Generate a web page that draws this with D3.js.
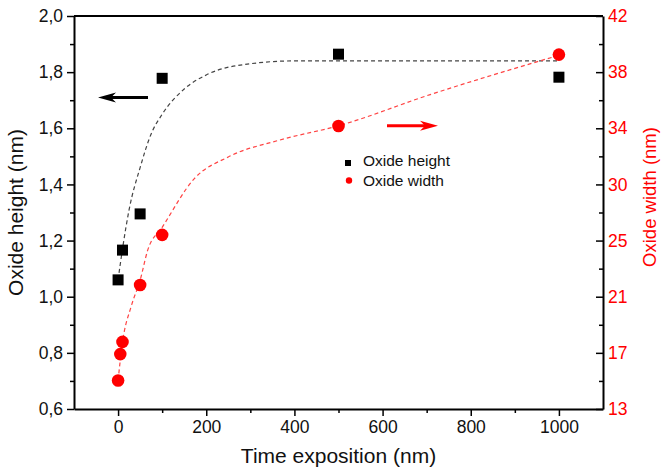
<!DOCTYPE html>
<html>
<head>
<meta charset="utf-8">
<script src="https://cdn.jsdelivr.net/npm/d3@7"></script>
<style>
  body { margin: 0; background: #fff; }
  text { font-family: "Liberation Sans", Arial, sans-serif; }
</style>
</head>
<body>
<svg width="662" height="471"></svg>
<script>
// measured points
var timeHeight = [0, 10, 50, 100, 500, 1000];
var heightVals = [1.06, 1.166, 1.295, 1.778, 1.864, 1.782];
var timeWidth = [0, 5, 10, 50, 100, 500, 1000];
var widthVals = [15.1, 17.05, 17.95, 22.15, 25.85, 33.88, 39.15];

// dashed fit curves
var heightFitT = [0, 10, 25, 50, 75, 100, 150, 200, 300, 400, 600, 1000];
var heightFitV = [1.06, 1.17, 1.31, 1.46, 1.58, 1.65, 1.74, 1.79, 1.83, 1.84, 1.84, 1.84];
var widthFitT = [0, 5, 10, 30, 50, 67, 100, 173, 250, 367, 500, 708, 1000];
var widthFitV = [15.1, 16.6, 17.9, 20.6, 22.5, 24.7, 26.4, 30.0, 31.6, 32.85, 33.9, 36.2, 39.1];

var xTicks = [0, 200, 400, 600, 800, 1000];
var leftTicks = [0.6, 0.8, 1.0, 1.2, 1.4, 1.6, 1.8, 2.0];
var rightLabels = ["13", "17", "21", "25", "30", "34", "38", "42"];

var svg = d3.select("svg"),
    margin = {top: 16, right: 59, bottom: 62, left: 74},
    width = 662 - margin.left - margin.right,
    height = 471 - margin.top - margin.bottom,
    g = svg.append("g").attr("transform", "translate(" + margin.left + "," + margin.top + ")");

var x = d3.scaleLinear().domain([-100, 1100]).range([0, width]);
var y = d3.scaleLinear().domain([0.6, 2.0]).range([height, 0]);
var y2 = d3.scaleLinear().domain([13, 42]).range([height, 0]);

var rightTicks = rightLabels.map(function(d, i) { return 13 + i * 29 / 7; });

// minor ticks first
g.append("g")
    .attr("transform", "translate(0," + height + ")")
    .call(d3.axisBottom(x).tickValues([100, 300, 500, 700, 900]).tickSize(4).tickFormat(""))
    .call(function(a) { a.select(".domain").remove(); a.selectAll("line").attr("stroke-width", 1.5); });
g.append("g")
    .call(d3.axisLeft(y).tickValues([0.7, 0.9, 1.1, 1.3, 1.5, 1.7, 1.9]).tickSize(4).tickFormat(""))
    .call(function(a) { a.select(".domain").remove(); a.selectAll("line").attr("stroke-width", 1.5); });
g.append("g")
    .attr("transform", "translate(" + width + ",0)")
    .call(d3.axisRight(y2).tickValues(rightTicks.slice(1).map(function(d) { return d - 29 / 14; })).tickSize(-4).tickFormat(""))
    .call(function(a) { a.select(".domain").remove(); a.selectAll("line").attr("stroke-width", 1.5); });

// frame
g.append("line").attr("x1", 0).attr("x2", width).attr("y1", 0).attr("y2", 0)
    .attr("stroke", "#000").attr("stroke-width", 2);

var xAxis = g.append("g")
    .attr("transform", "translate(0," + height + ")")
    .call(d3.axisBottom(x).tickValues(xTicks).tickSize(7).tickSizeOuter(0).tickPadding(5).tickFormat(d3.format("d")));

var yAxis = g.append("g")
    .call(d3.axisLeft(y).tickValues(leftTicks).tickSize(7).tickSizeOuter(0).tickPadding(4)
      .tickFormat(function(d) { return d3.format(".1f")(d).replace(".", ","); }));

var y2Axis = g.append("g")
    .attr("transform", "translate(" + width + ",0)")
    .call(d3.axisRight(y2).tickValues(rightTicks).tickSize(-7).tickSizeOuter(0).tickPadding(5)
      .tickFormat(function(d, i) { return rightLabels[i]; }));

[xAxis, yAxis, y2Axis].forEach(function(a) {
  a.selectAll("text").attr("font-size", 17.5).attr("font-family", "Liberation Sans, Arial, sans-serif").attr("fill", "#111");
  a.selectAll("line").attr("stroke-width", 1.5);
  a.select(".domain").attr("stroke-width", 2);
});
y2Axis.selectAll("text").attr("fill", "#f00");

// fit curves
var line = d3.line().curve(d3.curveMonotoneX);

g.append("path")
    .attr("d", line(heightFitT.map(function(t, i) { return [x(t), y(heightFitV[i])]; })))
    .attr("fill", "none").attr("stroke", "#444").attr("stroke-width", 1.2)
    .attr("stroke-dasharray", "4,3");

g.append("path")
    .attr("d", line(widthFitT.map(function(t, i) { return [x(t), y2(widthFitV[i])]; })))
    .attr("fill", "none").attr("stroke", "#f44").attr("stroke-width", 1.2)
    .attr("stroke-dasharray", "4,3");

// markers
g.selectAll(".sq").data(timeHeight).enter().append("rect")
    .attr("x", function(d) { return x(d) - 5.5; })
    .attr("y", function(d, i) { return y(heightVals[i]) - 5.5; })
    .attr("width", 11).attr("height", 11)
    .attr("fill", "#000");

g.selectAll(".dot").data(timeWidth).enter().append("circle")
    .attr("cx", function(d) { return x(d); })
    .attr("cy", function(d, i) { return y2(widthVals[i]); })
    .attr("r", 6.3)
    .attr("fill", "#f00");

// arrows
function arrow(x1, x2, yy, color) {
  var dir = x2 > x1 ? 1 : -1;
  g.append("line").attr("x1", x1).attr("x2", x2 - dir * 12).attr("y1", yy).attr("y2", yy)
      .attr("stroke", color).attr("stroke-width", 3);
  g.append("path")
      .attr("d", "M" + x2 + "," + yy + "L" + (x2 - dir * 18) + "," + (yy - 5) +
                 "L" + (x2 - dir * 13) + "," + yy + "L" + (x2 - dir * 18) + "," + (yy + 5) + "Z")
      .attr("fill", color);
}
arrow(148 - margin.left, 98 - margin.left, 97.5 - margin.top, "#000");
arrow(387 - margin.left, 438 - margin.left, 125.7 - margin.top, "#f00");

// legend
var legend = g.append("g").attr("transform", "translate(" + (348 - margin.left) + "," + (163 - margin.top) + ")");
legend.append("rect").attr("x", -3).attr("y", -3).attr("width", 6).attr("height", 6).attr("fill", "#000");
legend.append("circle").attr("cx", 1).attr("cy", 17.5).attr("r", 3.2).attr("fill", "#f00");
legend.append("text").attr("x", 15).attr("y", 2.7).attr("font-size", 15.5).attr("fill", "#111").text("Oxide height");
legend.append("text").attr("x", 15).attr("y", 22.5).attr("font-size", 15.5).attr("fill", "#111").text("Oxide width");

// axis titles
svg.append("text")
    .attr("x", margin.left + width / 2).attr("y", 463)
    .attr("text-anchor", "middle").attr("font-size", 21).attr("fill", "#111")
    .text("Time exposition (nm)");

svg.append("text")
    .attr("transform", "translate(23," + (margin.top + height / 2) + ") rotate(-90)")
    .attr("text-anchor", "middle").attr("font-size", 21).attr("fill", "#111")
    .text("Oxide height (nm)");

svg.append("text")
    .attr("transform", "translate(656,197) rotate(-90)")
    .attr("text-anchor", "middle").attr("font-size", 18.5).attr("fill", "#f00")
    .text("Oxide width (nm)");
</script>
</body>
</html>
